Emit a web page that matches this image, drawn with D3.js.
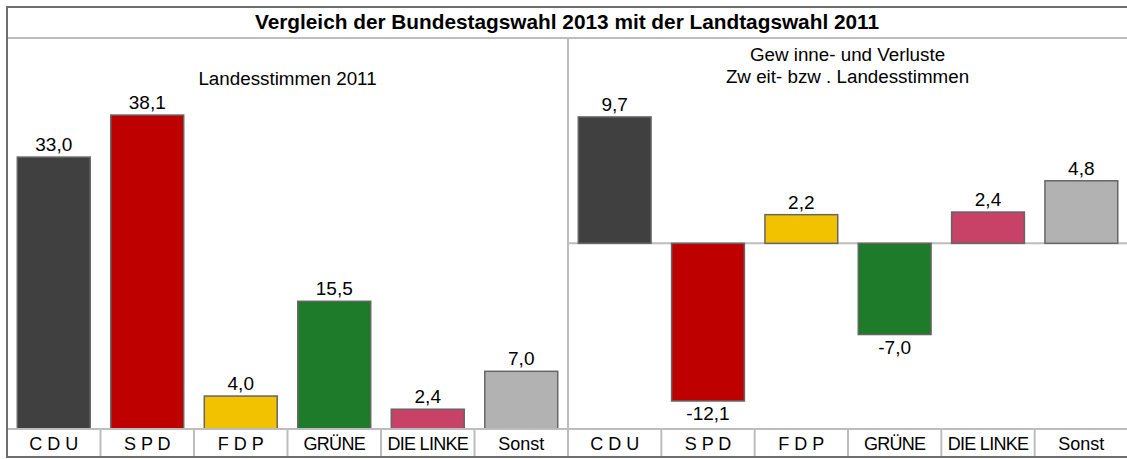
<!DOCTYPE html>
<html>
<head>
<meta charset="utf-8">
<script src="https://cdn.jsdelivr.net/npm/d3@7"></script>
<style>
  body { margin: 0; background: #fff; }
  text { font-family: "Liberation Sans", Arial, sans-serif; fill: #000; }
</style>
</head>
<body>
<div id="container"></div>
<script>
/* DATA */
const parties = ["C D U", "S P D", "F D P", "GRÜNE", "DIE LINKE", "Sonst"];
const colors = ["#404040", "#bf0000", "#f2c200", "#1e7b2a", "#c84166", "#b2b2b2"];
const landesstimmen2011 = [33.0, 38.1, 4.0, 15.5, 2.4, 7.0];
const gewinneVerluste = [9.7, -12.1, 2.2, -7.0, 2.4, 4.8];
const title = "Vergleich der Bundestagswahl 2013 mit der Landtagswahl 2011";
const leftTitle = ["Landesstimmen 2011"];
const rightTitle = ["Gew inne- und Verluste", "Zw eit- bzw . Landesstimmen"];

/* CONSTANTS */
const width = 1127, height = 459;
const frame = {left: 7, top: 7, titleBottom: 38, split: 568, right: 1128, axis: 429, bottom: 457};
const de = d3.formatLocale({decimal: ",", thousands: ".", grouping: [3], currency: ["", " €"], minus: "-"});
const fmt = de.format(".1f");

const svg = d3.select("#container")
  .append("svg")
  .attr("width", width)
  .attr("height", height);

// SCALES
const xLeft = d3.scaleBand()
  .domain(parties)
  .range([frame.left, frame.split])
  .paddingInner(0.22)
  .paddingOuter(0.11);

const xRight = d3.scaleBand()
  .domain(parties)
  .range([frame.split, frame.right])
  .paddingInner(0.22)
  .paddingOuter(0.11);

const yLeft = d3.scaleLinear()
  .domain([0, 40])
  .range([frame.axis, 99.4]);

const yRight = d3.scaleLinear()
  .domain([-14.25, 11])
  .range([frame.axis, 100]);

// LEFT PANEL BARS
const left = svg.append("g");
left.selectAll("rect")
  .data(landesstimmen2011)
  .join("rect")
  .attr("x", (d, i) => xLeft(parties[i]))
  .attr("width", xLeft.bandwidth())
  .attr("y", d => yLeft(d))
  .attr("height", d => yLeft(0) - yLeft(d))
  .attr("fill", (d, i) => colors[i])
  .attr("stroke", "#666")
  .attr("stroke-width", 1.5);

left.selectAll("text.val")
  .data(landesstimmen2011)
  .join("text")
  .attr("class", "val")
  .attr("x", (d, i) => xLeft(parties[i]) + xLeft.bandwidth() / 2)
  .attr("y", d => yLeft(d) - 6)
  .attr("text-anchor", "middle")
  .attr("font-size", 19)
  .text(fmt);

// RIGHT PANEL
const right = svg.append("g");

// zero line
right.append("line")
  .attr("x1", frame.split).attr("x2", frame.right)
  .attr("y1", yRight(0)).attr("y2", yRight(0))
  .attr("stroke", "#bdbdbd")
  .attr("stroke-width", 2);

right.selectAll("rect")
  .data(gewinneVerluste)
  .join("rect")
  .attr("x", (d, i) => xRight(parties[i]))
  .attr("width", xRight.bandwidth())
  .attr("y", d => yRight(Math.max(0, d)))
  .attr("height", d => Math.abs(yRight(d) - yRight(0)))
  .attr("fill", (d, i) => colors[i])
  .attr("stroke", "#666")
  .attr("stroke-width", 1.5);

right.selectAll("text.val")
  .data(gewinneVerluste)
  .join("text")
  .attr("class", "val")
  .attr("x", (d, i) => xRight(parties[i]) + xRight.bandwidth() / 2)
  .attr("y", d => d >= 0 ? yRight(d) - 6 : yRight(d) + 19)
  .attr("text-anchor", "middle")
  .attr("font-size", 19)
  .text(fmt);

// CATEGORY ROWS (axis with cell separators)
function categoryRow(scale) {
  const g = svg.append("g")
    .attr("transform", `translate(0,${frame.axis})`)
    .call(d3.axisBottom(scale).tickSize(0).tickPadding(0));
  g.select(".domain").remove();
  g.selectAll(".tick text")
    .attr("y", 21)
    .attr("dy", null)
    .attr("font-size", 18)
    .attr("font-family", "Liberation Sans, Arial, sans-serif")
    .attr("fill", "#000")
    .style("letter-spacing", d => (d === "GRÜNE" || d === "DIE LINKE") ? "-0.7px" : null);
  // cell separators
  const [r0, r1] = scale.range();
  g.selectAll("line.sep")
    .data(d3.range(1, parties.length))
    .join("line")
    .attr("class", "sep")
    .attr("x1", i => r0 + i * (r1 - r0) / parties.length)
    .attr("x2", i => r0 + i * (r1 - r0) / parties.length)
    .attr("y1", 0)
    .attr("y2", frame.bottom - frame.axis)
    .attr("stroke", "#bdbdbd")
    .attr("stroke-width", 2);
}
categoryRow(xLeft);
categoryRow(xRight);

// FRAME LINES
const light = "#bdbdbd", dark = "#6e6e6e";
svg.append("line")
  .attr("x1", frame.left).attr("x2", width)
  .attr("y1", frame.titleBottom).attr("y2", frame.titleBottom)
  .attr("stroke", light).attr("stroke-width", 2);
svg.append("line")
  .attr("x1", frame.left).attr("x2", width)
  .attr("y1", frame.axis).attr("y2", frame.axis)
  .attr("stroke", light).attr("stroke-width", 2);
svg.append("line")
  .attr("x1", frame.split).attr("x2", frame.split)
  .attr("y1", frame.titleBottom).attr("y2", frame.bottom)
  .attr("stroke", light).attr("stroke-width", 2);
svg.append("line")
  .attr("x1", frame.left - 1).attr("x2", width)
  .attr("y1", frame.top).attr("y2", frame.top)
  .attr("stroke", dark).attr("stroke-width", 2);
svg.append("line")
  .attr("x1", frame.left - 1).attr("x2", width)
  .attr("y1", frame.bottom).attr("y2", frame.bottom)
  .attr("stroke", dark).attr("stroke-width", 2);
svg.append("line")
  .attr("x1", frame.left).attr("x2", frame.left)
  .attr("y1", frame.top).attr("y2", frame.bottom + 1)
  .attr("stroke", dark).attr("stroke-width", 2);

// TITLES
svg.append("text")
  .attr("x", (frame.left + width) / 2)
  .attr("y", 29)
  .attr("text-anchor", "middle")
  .attr("font-size", 20.8)
  .attr("font-weight", "bold")
  .text(title);

svg.selectAll("text.lt")
  .data(leftTitle)
  .join("text")
  .attr("class", "lt")
  .attr("x", (frame.left + frame.split) / 2)
  .attr("y", (d, i) => 85 + i * 22)
  .attr("text-anchor", "middle")
  .attr("font-size", 18.8)
  .text(d => d);

svg.selectAll("text.rt")
  .data(rightTitle)
  .join("text")
  .attr("class", "rt")
  .attr("x", (frame.split + width) / 2)
  .attr("y", (d, i) => 61 + i * 22)
  .attr("text-anchor", "middle")
  .attr("font-size", 18.8)
  .text(d => d);
</script>
</body>
</html>
